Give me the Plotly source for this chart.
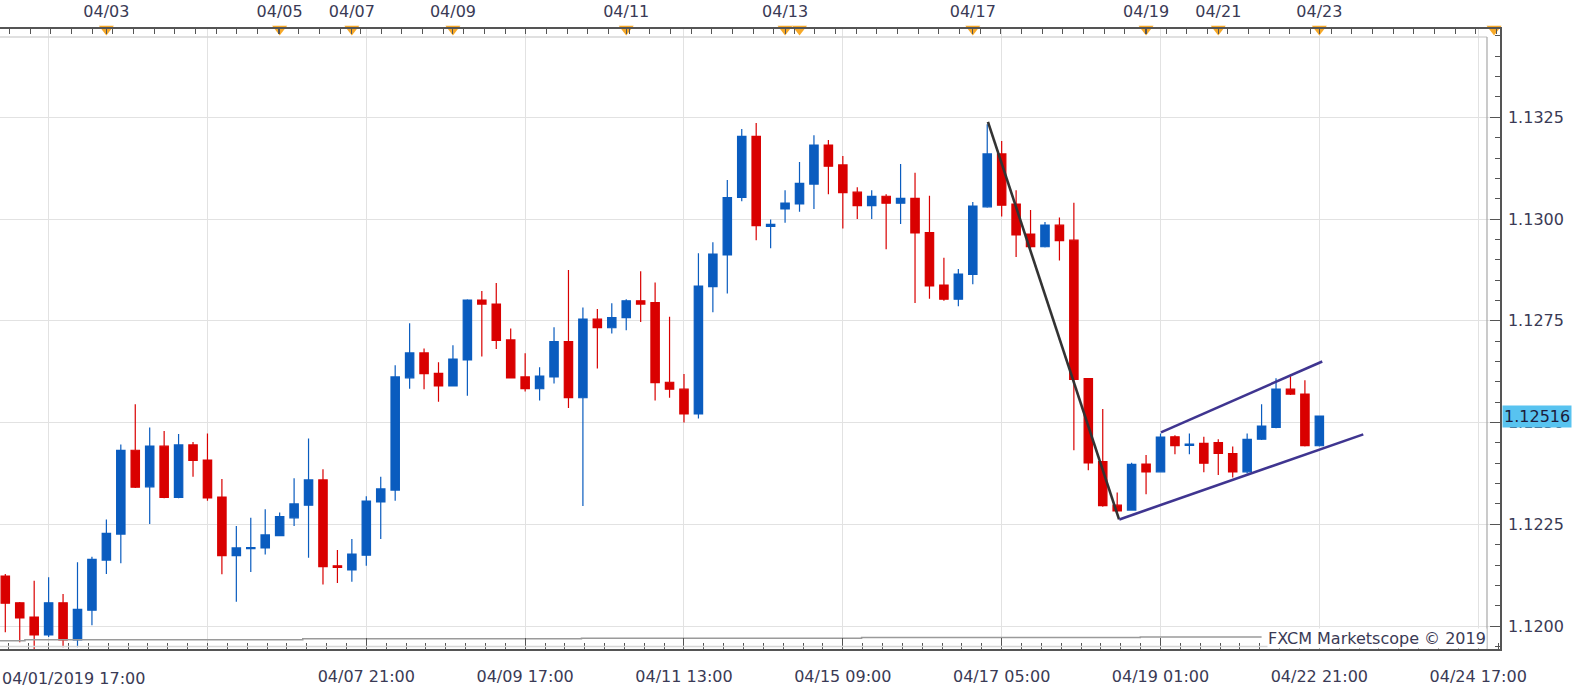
import plotly.graph_objects as go

# ---------------- data ----------------
idx = list(range(92))
opens = [1.12123, 1.12057, 1.12022, 1.11978, 1.12057, 1.11966, 1.12039, 1.12162, 1.12226, 1.12432,
         1.12342, 1.12442, 1.12316, 1.12445, 1.12408, 1.12317, 1.12173, 1.12190, 1.12192, 1.12222,
         1.12266, 1.12297, 1.12359, 1.12148, 1.12138, 1.12174, 1.12305, 1.12334, 1.12610, 1.12671,
         1.12621, 1.12590, 1.12654, 1.12801, 1.12791, 1.12703, 1.12612, 1.12583, 1.12612, 1.12699,
         1.12561, 1.12754, 1.12733, 1.12758, 1.12799, 1.12795, 1.12599, 1.12582, 1.12521, 1.12834,
         1.12912, 1.13053, 1.13203, 1.12982, 1.13025, 1.13037, 1.13086, 1.13182, 1.13133, 1.13066,
         1.13033, 1.13056, 1.13039, 1.13051, 1.12967, 1.12838, 1.12803, 1.12864, 1.13030, 1.13160,
         1.13037, 1.12963, 1.12932, 1.12985, 1.12948, 1.12608, 1.12404, 1.12297, 1.12285, 1.12398,
         1.12379, 1.12465, 1.12444, 1.12449, 1.12451, 1.12424, 1.12379, 1.12459, 1.12488, 1.12582,
         1.12570, 1.12443]
highs = [1.12128, 1.12059, 1.12111, 1.12120, 1.12079, 1.12157, 1.12170, 1.12262, 1.12446, 1.12545,
         1.12488, 1.12479, 1.12472, 1.12452, 1.12473, 1.12361, 1.12246, 1.12266, 1.12287, 1.12279,
         1.12363, 1.12461, 1.12385, 1.12187, 1.12214, 1.12319, 1.12367, 1.12641, 1.12744, 1.12682,
         1.12648, 1.12690, 1.12803, 1.12823, 1.12843, 1.12731, 1.12670, 1.12636, 1.12734, 1.12875,
         1.12783, 1.12779, 1.12793, 1.12803, 1.12872, 1.12844, 1.12760, 1.12619, 1.12916, 1.12943,
         1.13096, 1.13221, 1.13236, 1.12999, 1.13071, 1.13140, 1.13206, 1.13194, 1.13155, 1.13078,
         1.13071, 1.13061, 1.13135, 1.13114, 1.13057, 1.12905, 1.12877, 1.13042, 1.13233, 1.13192,
         1.13071, 1.13022, 1.12993, 1.13004, 1.13040, 1.12609, 1.12533, 1.12328, 1.12401, 1.12420,
         1.12473, 1.12469, 1.12473, 1.12465, 1.12459, 1.12441, 1.12473, 1.12545, 1.12609, 1.12614,
         1.12604, 1.12517]
lows = [1.11985, 1.11960, 1.11941, 1.11973, 1.11948, 1.11948, 1.12002, 1.12128, 1.12154, 1.12339,
        1.12251, 1.12314, 1.12314, 1.12367, 1.12308, 1.12127, 1.12060, 1.12133, 1.12176, 1.12221,
        1.12246, 1.12168, 1.12102, 1.12106, 1.12109, 1.12148, 1.12214, 1.12308, 1.12583, 1.12582,
        1.12551, 1.12589, 1.12566, 1.12662, 1.12681, 1.12609, 1.12576, 1.12554, 1.12596, 1.12536,
        1.12295, 1.12633, 1.12719, 1.12727, 1.12747, 1.12554, 1.12561, 1.12500, 1.12510, 1.12771,
        1.12817, 1.13044, 1.12948, 1.12928, 1.12991, 1.13018, 1.13025, 1.13061, 1.12977, 1.13000,
        1.13000, 1.12926, 1.12988, 1.12794, 1.12804, 1.12799, 1.12786, 1.12840, 1.13028, 1.13006,
        1.12907, 1.12928, 1.12930, 1.12898, 1.12432, 1.12383, 1.12293, 1.12280, 1.12283, 1.12324,
        1.12378, 1.12422, 1.12422, 1.12378, 1.12371, 1.12365, 1.12375, 1.12457, 1.12486, 1.12568,
        1.12441, 1.12441]
closes = [1.12056, 1.12020, 1.11978, 1.12057, 1.11966, 1.12041, 1.12164, 1.12228, 1.12432, 1.12341,
          1.12442, 1.12316, 1.12445, 1.12407, 1.12315, 1.12173, 1.12192, 1.12193, 1.12224, 1.12269,
          1.12300, 1.12359, 1.12146, 1.12144, 1.12177, 1.12307, 1.12337, 1.12612, 1.12671, 1.12620,
          1.12590, 1.12656, 1.12801, 1.12791, 1.12702, 1.12610, 1.12583, 1.12614, 1.12699, 1.12561,
          1.12754, 1.12733, 1.12758, 1.12799, 1.12791, 1.12598, 1.12582, 1.12521, 1.12835, 1.12914,
          1.13053, 1.13203, 1.12984, 1.12987, 1.13039, 1.13088, 1.13182, 1.13130, 1.13065, 1.13033,
          1.13056, 1.13039, 1.13051, 1.12966, 1.12836, 1.12803, 1.12865, 1.13032, 1.13160, 1.13034,
          1.12961, 1.12932, 1.12985, 1.12947, 1.12606, 1.12401, 1.12296, 1.12283, 1.12397, 1.12379,
          1.12464, 1.12443, 1.12447, 1.12400, 1.12424, 1.12379, 1.12459, 1.12491, 1.12582, 1.12570,
          1.12443, 1.12516]
last_price = 1.12516

# bottom axis labels (candle index of each major tick)
bottom_tick_idx = [3, 14, 25, 36, 47, 58, 69, 80, 91, 102]
bottom_tick_text = ["", "", "04/07 21:00", "04/09 17:00", "04/11 13:00", "04/15 09:00",
                    "04/17 05:00", "04/19 01:00", "04/22 21:00", "04/24 17:00"]
first_label = "04/01/2019 17:00"

# top axis day labels and event markers
top_tick_idx = [7, 19, 24, 31, 43, 54, 67, 79, 84, 91]
top_tick_text = ["04/03", "04/05", "04/07", "04/09", "04/11", "04/13", "04/17", "04/19", "04/21", "04/23"]
event_idx = [7, 19, 24, 31, 43, 54, 55, 67, 79, 84, 91, 103.1]

# drawn trend lines
down_line_x = [68.05, 77.13]
down_line_y = [1.13239, 1.12262]
lower_chan_x = [77.15, 94.04]
lower_chan_y = [1.12262, 1.12471]
upper_chan_x = [80.03, 91.2]
upper_chan_y = [1.12476, 1.12650]

# faint step indicator near the bottom
step_x = [-0.4, 1.36, 20.6, 39.9, 59.3, 78.6, 87.0]
step_y = [1.119638, 1.119665, 1.119687, 1.119701, 1.119716, 1.119731, 1.119731]

y_ticks = [1.1200, 1.1225, 1.1250, 1.1275, 1.1300, 1.1325]

# ---------------- style ----------------
RED = "#d90000"
BLUE = "#0a5cbf"
TXT = "#3a3a55"
GRID = "#e2e2e2"
FONT = "DejaVu Sans"
X_RANGE = [-0.367, 103.51]
Y_RANGE = [1.119436, 1.13467]

fig = go.Figure()

fig.add_trace(go.Scatter(x=step_x, y=step_y, mode="lines", line=dict(color="#9a9a9a", width=1.5, shape="hv"),
                         showlegend=False, hoverinfo="skip"))

fig.add_trace(go.Candlestick(
    x=idx, open=opens, high=highs, low=lows, close=closes,
    increasing=dict(line=dict(color=BLUE, width=1.2), fillcolor=BLUE),
    decreasing=dict(line=dict(color=RED, width=1.2), fillcolor=RED),
    whiskerwidth=0, showlegend=False, hoverinfo="skip"))

fig.add_trace(go.Scatter(x=down_line_x, y=down_line_y, mode="lines",
                         line=dict(color="#333333", width=2.6), showlegend=False, hoverinfo="skip"))
fig.add_trace(go.Scatter(x=lower_chan_x, y=lower_chan_y, mode="lines",
                         line=dict(color="#3f3590", width=2.6), showlegend=False, hoverinfo="skip"))
fig.add_trace(go.Scatter(x=upper_chan_x, y=upper_chan_y, mode="lines",
                         line=dict(color="#3f3590", width=2.6), showlegend=False, hoverinfo="skip"))

fig.add_trace(go.Scatter(x=event_idx, y=[Y_RANGE[1]] * len(event_idx), xaxis="x2", mode="markers",
                         marker=dict(symbol="triangle-down", size=13, color="#f7a928",
                                     line=dict(width=0)),
                         cliponaxis=False, showlegend=False, hoverinfo="skip"))

bottom_minor = [3 + k * 11 / 8 for k in range(-2, 74)]
top_minor = [0.3 + k * 1.43 for k in range(0, 73)]

fig.update_layout(
    width=1583, height=693,
    margin=dict(l=0, r=83, t=29, b=44, autoexpand=False),
    paper_bgcolor="white", plot_bgcolor="white",
    boxgap=0.42, boxgroupgap=0,
    font=dict(family=FONT, size=16, color=TXT),
    xaxis=dict(
        domain=[0, 1], range=X_RANGE, rangeslider=dict(visible=False), automargin=False,
        tickmode="array", tickvals=bottom_tick_idx, ticktext=bottom_tick_text,
        ticks="inside", ticklen=11, tickcolor="#555", tickwidth=1,
        showline=True, linecolor="#555", linewidth=1.5,
        showgrid=True, gridcolor=GRID, gridwidth=1, zeroline=False,
        ticklabelstandoff=12,
        tickfont=dict(family=FONT, size=16, color=TXT),
        minor=dict(tickmode="array", tickvals=bottom_minor, ticks="inside", ticklen=6,
                   tickcolor="#555", showgrid=False),
    ),
    xaxis2=dict(
        overlaying="x", side="top", anchor="y", range=X_RANGE, automargin=False,
        tickmode="array", tickvals=top_tick_idx, ticktext=top_tick_text,
        ticks="inside", ticklen=5, tickcolor="#555",
        showline=True, linecolor="#555", linewidth=1.5,
        showgrid=False, zeroline=False, ticklabelstandoff=4,
        tickfont=dict(family=FONT, size=16, color=TXT),
        minor=dict(tickmode="array", tickvals=top_minor, ticks="inside", ticklen=5,
                   tickcolor="#555", showgrid=False),
    ),
    yaxis=dict(
        domain=[0, 1], range=Y_RANGE, side="right", anchor="x", automargin=False,
        tickmode="array", tickvals=y_ticks, ticktext=[f"{v:.4f}" for v in y_ticks],
        ticks="inside", ticklen=10, tickcolor="#555",
        showline=True, linecolor="#555", linewidth=1.5,
        showgrid=True, gridcolor=GRID, zeroline=False, ticklabelstandoff=3,
        tickfont=dict(family=FONT, size=16, color=TXT),
        minor=dict(tickmode="linear", tick0=1.12, dtick=0.0005, ticks="inside", ticklen=5,
                   tickcolor="#555", showgrid=False),
    ),
    shapes=[
        dict(type="line", xref="paper", yref="paper", x0=0, x1=0.99133, y0=0.9871, y1=0.9871,
             line=dict(color="#d6d6d6", width=1.5)),
        dict(type="line", xref="paper", yref="paper", x0=0, x1=0.99133, y0=0.004, y1=0.004,
             line=dict(color="#d6d6d6", width=1.5)),
        dict(type="line", xref="paper", yref="paper", x0=0.99133, x1=0.99133, y0=0, y1=0.9871,
             line=dict(color="#a8a8a8", width=1.2)),
    ],
    annotations=[
        dict(text=first_label, xref="paper", yref="paper", x=0, y=-0.0476, xanchor="left",
             yanchor="middle", showarrow=False, font=dict(family=FONT, size=16, color=TXT)),
        dict(text="FXCM Marketscope © 2019", xref="paper", yref="paper", x=0.99133, y=0.0177,
             xanchor="right", yanchor="middle", showarrow=False, bgcolor="white", borderpad=0,
             font=dict(family=FONT, size=16, color=TXT)),
        dict(text=f"{last_price:.5f}", xref="paper", yref="y", x=1, y=last_price, xanchor="left",
             yanchor="middle", xshift=2, showarrow=False, bgcolor="#58c3f0", borderpad=1,
             font=dict(family=FONT, size=16, color="#1c1c3c")),
    ],
)

fig.write_html("out.html", config={"displayModeBar": False},
               post_script="document.body.style.margin='0px';document.body.style.overflow='hidden';")
